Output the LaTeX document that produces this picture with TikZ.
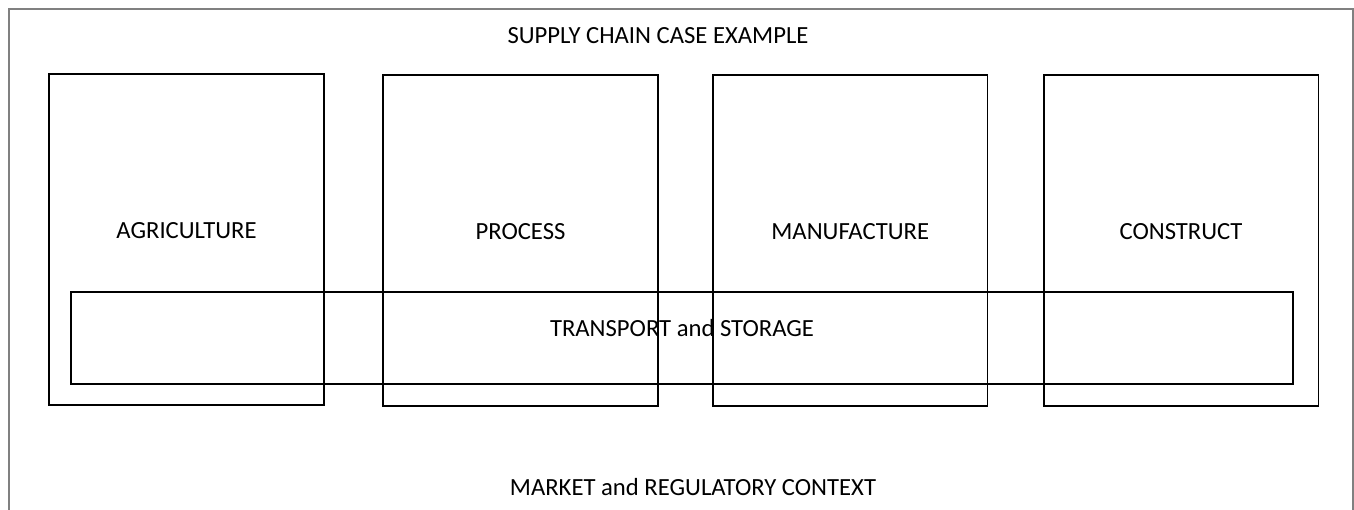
\documentclass[tikz,border=0pt]{standalone}
\usepackage{fontspec}
\setmainfont{Carlito}
\usepackage{tikz}
\usetikzlibrary{positioning}

\begin{document}
\begin{tikzpicture}
          [x=0.75pt, y=-0.75pt,
           every node/.style={font=\fontsize{18.5}{22}\selectfont},
           stage/.style={draw, line width=1.3pt, minimum width=206pt, minimum height=248pt, inner sep=0pt},
           band/.style={draw, line width=1.3pt, minimum width=916pt, minimum height=69pt, inner sep=0pt},
           node distance=40pt]
          \useasboundingbox (0,0) rectangle (1354,510);
          \draw[gray, line width=0.9pt] (9,510) -- (9,9) -- (1353,9) -- (1353,510);

          \node (title) at (658,36) {SUPPLY CHAIN CASE EXAMPLE};

          \node (agri) [stage] at (186.5,239.5) {};
          \node (proc) [stage, right = 43.2pt of agri, yshift=-0.75pt] {};
          \node (manu) [stage, right = of proc] {};
          \node (cons) [stage, right = 40.8pt of manu] {};

          \node (agrit) at ([yshift=6.5pt]agri.center) {AGRICULTURE};
          \node (proct) at ([yshift=6.5pt]proc.center) {PROCESS};
          \node (manut) at ([yshift=6.5pt]manu.center) {MANUFACTURE};
          \node (const) at ([yshift=6.5pt]cons.center) {CONSTRUCT};

          \node (trans) [band] at (682,338) {};
          \node (transt) at ([yshift=7.5pt]trans.center) {TRANSPORT and STORAGE};

          \node (market) at (693,487) {MARKET and REGULATORY CONTEXT};
        \end{tikzpicture}
\end{document}
